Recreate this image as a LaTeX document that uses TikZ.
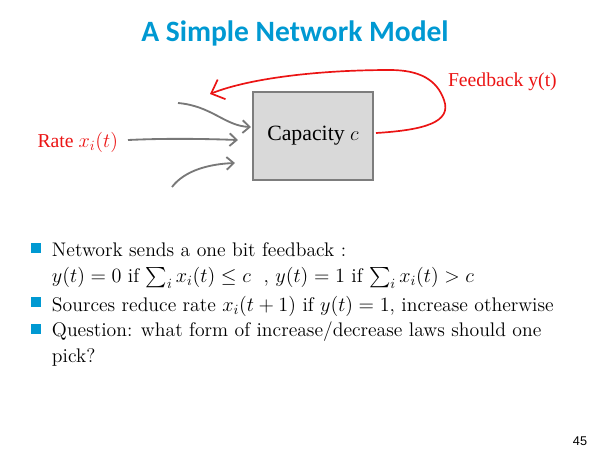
\documentclass[tikz,border=0pt]{standalone}
\usepackage{fontspec}
\usepackage{amsmath}
\newfontfamily\titlefont{Carlito}
\newfontfamily\timesfont{Liberation Serif}
\newfontfamily\arialfont{Liberation Sans}
\usetikzlibrary{arrows.meta, positioning, calc}

\definecolor{titleblue}{RGB}{0,153,210}
\definecolor{feedred}{RGB}{235,20,20}
\definecolor{arrowgray}{RGB}{120,120,120}
\definecolor{boxgray}{RGB}{125,125,125}
\definecolor{boxfill}{RGB}{217,217,217}

\begin{document}
\begin{tikzpicture}[
x=0.025cm, y=-0.025cm,
every node/.style={inner sep=0pt, outer sep=0pt},
title/.style={font=\titlefont\bfseries\fontsize{21}{25}\selectfont, text=titleblue},
capbox/.style={
draw=boxgray,
fill=boxfill,
line width=1.6pt,
minimum width=3cm,
minimum height=2.2cm,
font=\timesfont\fontsize{15.5}{18}\selectfont
},
redlabel/.style={text=feedred, font=\timesfont\fontsize{14}{16}\selectfont},
inarrow/.style={draw=arrowgray, line width=1.3pt, -{Straight Barb[length=5pt,width=9pt]}},
fbarrow/.style={draw=feedred, line width=1.2pt, -{Straight Barb[length=8pt,width=15pt]}},
bulletsq/.style={fill=titleblue, minimum size=0.25cm},
itemtext/.style={anchor=north west, align=left, font=\fontsize{14}{18.5}\selectfont}
]
\useasboundingbox (0,0) rectangle (600,450);

\node[title] (title) at (295,33) {A Simple Network Model};

% the model
\node[capbox] (cap) at (313,136) {Capacity $c$};
\node[redlabel, anchor=east] (rate) at (118,142) {Rate $x_i(t)$};
\node[redlabel, anchor=west] (fb) at (448,82) {Feedback y(t)};

\coordinate (in1) at (178,103);
\coordinate (in3) at (172,187);
\coordinate (fbend) at (210,94);

\draw[inarrow] (in1) .. controls (212,106) and (225,126) .. ($(cap.west)+(-2,-9)$);
\draw[inarrow] ($(rate.east)+(10,-2)$) .. controls (170,138) and (210,139) .. ($(cap.west)+(-15,4)$);
\draw[inarrow] (in3) .. controls (185,170) and (210,164) .. ($(cap.west)+(-18,27)$);

\draw[fbarrow] ($(cap.east)+(3,-3)$) .. controls (425,130) and (452,122) .. (444,100)
  .. controls (437,80) and (420,70) .. (390,70)
  .. controls (320,70) and (250,78) .. (fbend);

% bullet list
\node[bulletsq] (b1) at (36,248) {};
\node[bulletsq] (b2) at (36,302) {};
\node[bulletsq] (b3) at (36,329) {};

\node[itemtext] (item1) at (52,243) {Network sends a one bit feedback :\\
$y(t)=0$ if $\sum_i x_i(t)\le c$ \ , $y(t)=1$ if $\sum_i x_i(t)>c$};
\node[itemtext] (item2) at (52,296) {Sources reduce rate $x_i(t+1)$ if $y(t)=1$, increase otherwise};
\node[itemtext] (item3) at (52,322) {Question: what form of increase/decrease laws should one\\pick?};

\node[font=\arialfont\fontsize{9}{10}\selectfont] (page) at (580,441) {45};
\end{tikzpicture}
\end{document}
